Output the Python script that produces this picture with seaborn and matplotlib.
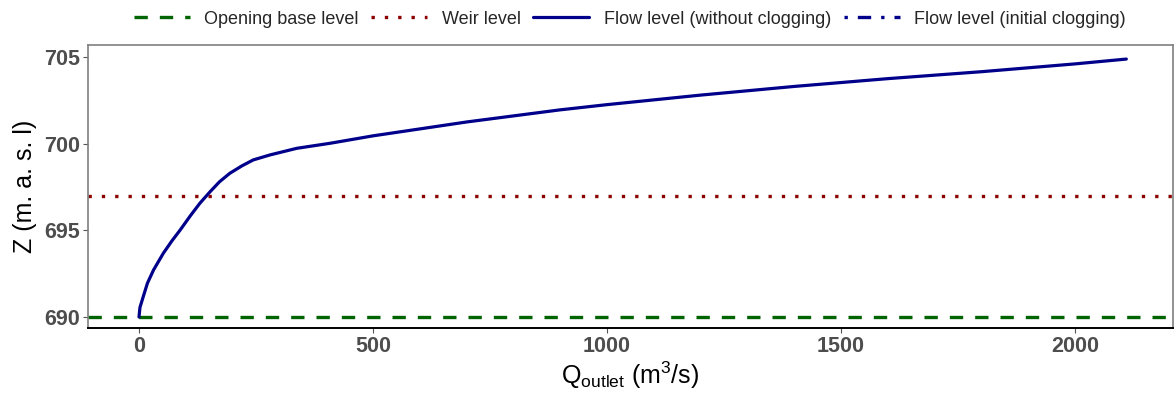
import numpy as np
import pandas as pd
import matplotlib
matplotlib.use("Agg")
import matplotlib.pyplot as plt
import seaborn as sns

# Flow curve (Q in m3/s, Z in m.a.s.l.)
q_outlet = [0, 2, 9, 18, 31, 52, 70, 88, 110, 130, 152, 172, 194, 220, 244,
            280, 337, 408, 500, 600, 700, 800, 900, 1000, 1200, 1400, 1600,
            1800, 2000, 2110]
z_flow = [690.0, 690.55, 691.17, 691.95, 692.71, 693.68, 694.38, 695.02,
          695.85, 696.56, 697.23, 697.8, 698.29, 698.72, 699.06, 699.35,
          699.73, 700.02, 700.45, 700.85, 701.25, 701.6, 701.95, 702.25,
          702.8, 703.3, 703.75, 704.15, 704.6, 704.88]

opening_base_level = 690.0
weir_level = 697.0
x_ticks = [0, 500, 1000, 1500, 2000]
y_ticks = [690, 695, 700, 705]

sns.set_style("white")
plt.rcParams['font.family'] = ['Liberation Sans', 'DejaVu Sans']
plt.rcParams['mathtext.fontset'] = 'custom'
plt.rcParams['mathtext.rm'] = 'Liberation Sans'
plt.rcParams['mathtext.it'] = 'Liberation Sans:italic'

df = pd.DataFrame({"Q": q_outlet, "Z": z_flow})

fig = plt.figure(figsize=(11.75, 3.97), dpi=100)
ax = fig.add_axes([0.0749, 0.174, 0.9231, 0.7126])

h_base = ax.axhline(opening_base_level, color="#006400", lw=2.4, ls=(0, (4, 3.6)))
h_weir = ax.axhline(weir_level, color="#8B0000", lw=2.4, ls=(0, (1, 3)))
sns.lineplot(data=df, x="Q", y="Z", ax=ax, color="#00008B", lw=2.3)
h_flow = ax.lines[-1]
# initial clogging series has no visible points in the chart
h_clog, = ax.plot([], [], color="#00008B", lw=2.4, ls=(0, (1, 3, 4, 3)))

ax.set_xlim(-109, 2209)
ax.set_ylim(689.37, 705.69)
ax.set_xticks(x_ticks)
ax.set_yticks(y_ticks)
ax.tick_params(axis="both", which="both", length=3.5, width=0.8, color="#555555",
               labelsize=15.5, labelcolor="#4D4D4D", pad=2.5, bottom=True, left=True)
for lab in ax.get_xticklabels() + ax.get_yticklabels():
    lab.set_fontweight("bold")

for side in ["left", "top", "right"]:
    ax.spines[side].set_color("#7F7F7F")
    ax.spines[side].set_linewidth(1.2)
ax.spines["bottom"].set_color("black")
ax.spines["bottom"].set_linewidth(1.4)

ax.set_xlabel(r"Q$_{\mathrm{outlet}}$ (m$^{3}$/s)", fontsize=18, color="black", labelpad=2)
ax.set_ylabel("Z (m. a. s. l)", fontsize=18, color="black", labelpad=5)

fig.legend([h_base, h_weir, h_flow, h_clog],
           ["Opening base level", "Weir level", "Flow level (without clogging)",
            "Flow level (initial clogging)"],
           loc="center", bbox_to_anchor=(0.536, 0.952), ncol=4, frameon=False,
           fontsize=13, handlelength=3.1, handletextpad=0.8, columnspacing=0.7)

fig.savefig("out.png", dpi=100)
